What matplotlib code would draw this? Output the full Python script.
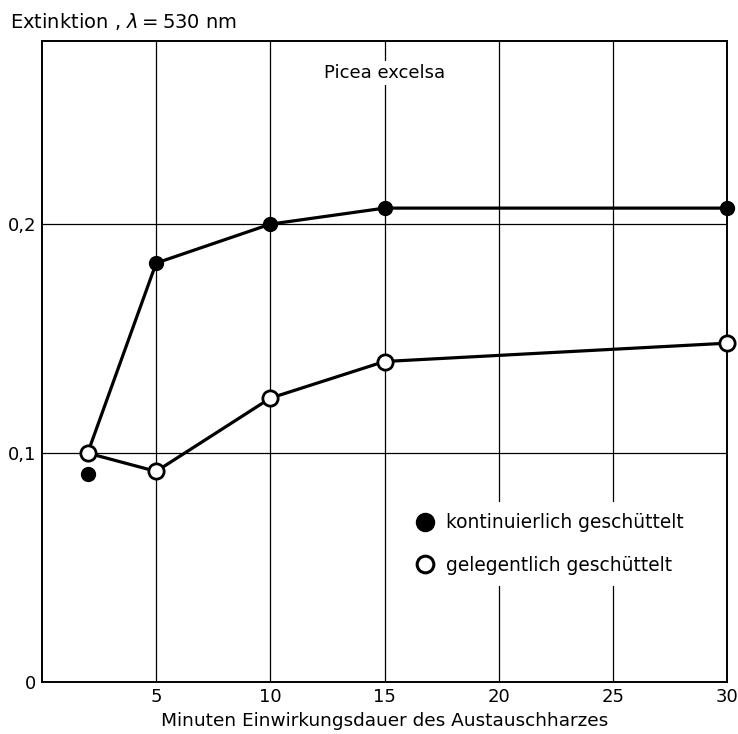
import matplotlib
matplotlib.use("Agg")
import matplotlib.pyplot as plt
from matplotlib.lines import Line2D

# Data
minutes = [2, 5, 10, 15, 30]
kontinuierlich = [0.091, 0.183, 0.200, 0.207, 0.207]
gelegentlich = [0.100, 0.092, 0.124, 0.140, 0.148]
x_ticks = [5, 10, 15, 20, 25, 30]
y_ticks = [0, 0.1, 0.2]
y_ticklabels = ["0", "0,1", "0,2"]

plt.rcParams['font.family'] = ['DejaVu Sans']

fig = plt.figure(figsize=(7.38, 7.34), dpi=100)
ax = fig.add_axes([42/738, 1-682/734, (727-42)/738, (682-41)/734])

ax.set_xlim(0, 30)
ax.set_ylim(0, 0.28)
ax.set_xticks(x_ticks)
ax.set_xticklabels([str(t) for t in x_ticks], fontsize=13)
ax.set_yticks(y_ticks)
ax.set_yticklabels(y_ticklabels, fontsize=13)
ax.tick_params(axis='x', length=0, pad=4)
ax.tick_params(axis='y', length=0, pad=4)
ax.grid(True, color='black', linewidth=0.9, zorder=0)
ax.set_axisbelow(True)
for s in ax.spines.values():
    s.set_linewidth(1.4)

# filled series: line starts from the open point at 2 min as in original
line_y = [gelegentlich[0]] + kontinuierlich[1:]
ax.plot(minutes, line_y, color='black', lw=2.3, zorder=3, clip_on=False)
ax.plot(minutes, kontinuierlich, 'o', color='black', ms=10, zorder=4, clip_on=False)
ax.plot(minutes, gelegentlich, '-', color='black', lw=2.3, zorder=3, clip_on=False)
ax.plot(minutes, gelegentlich, 'o', mfc='white', mec='black', mew=2, ms=11, zorder=5, clip_on=False)

ax.text(15, 1 - (73 - 41) / 641, "Picea excelsa", transform=ax.get_xaxis_transform(),
        ha='center', va='center', fontsize=13,
        bbox=dict(facecolor='white', edgecolor='none', pad=2), zorder=6)

fs_leg = 13.4
handles = [Line2D([], [], marker='o', ls='none', color='black', ms=13),
           Line2D([], [], marker='o', ls='none', mfc='white', mec='black', mew=2.2, ms=12)]
leg = ax.legend(handles, ["kontinuierlich geschüttelt", "gelegentlich geschüttelt"],
                loc='upper left', bbox_to_anchor=((403 - 42) / 685, (682 - 502) / 641),
                frameon=True, facecolor='white', edgecolor='none', framealpha=1,
                fontsize=fs_leg, handletextpad=0.5, labelspacing=1.26,
                handlelength=1.2, borderpad=0.6, borderaxespad=0, fancybox=False)
leg.set_zorder(6)

ax.set_xlabel("Minuten Einwirkungsdauer des Austauschharzes", fontsize=13.3, labelpad=5)
fig.text(10/738, 1-22/734, r"Extinktion , $\lambda = $530 nm", fontsize=14, va='center', ha='left')

fig.savefig("out.png", dpi=100)
